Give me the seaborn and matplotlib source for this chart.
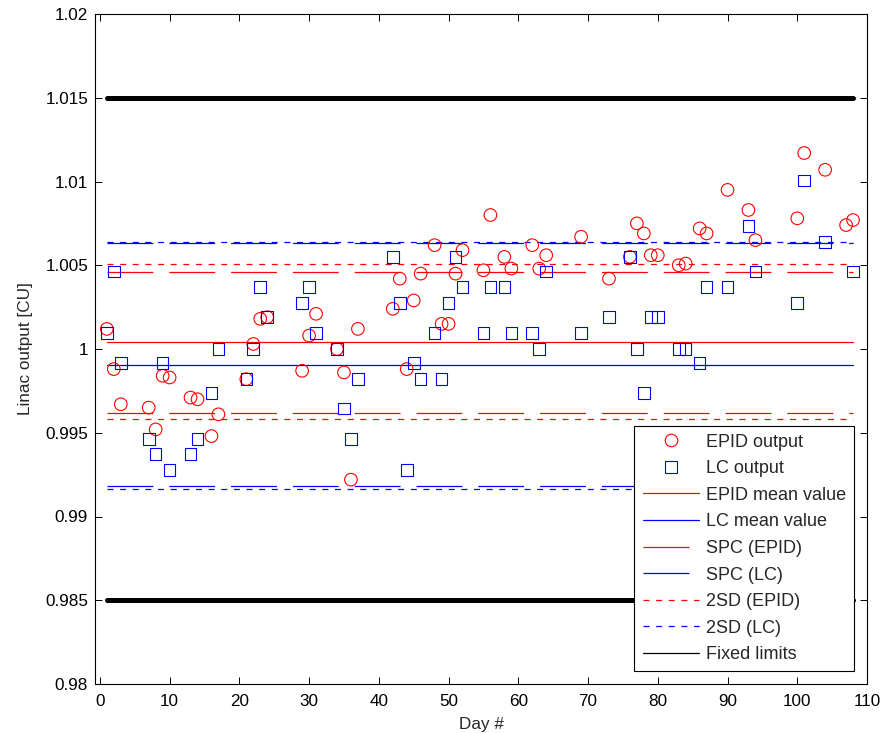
import numpy as np
import pandas as pd
import matplotlib
matplotlib.use("Agg")
import matplotlib.pyplot as plt
from matplotlib.lines import Line2D
import seaborn as sns

# Daily linac output measured with the EPID and with the LC chamber
days = [1, 2, 3, 7, 8, 9, 10, 13, 14, 16, 17, 21, 22, 23, 24, 29, 30, 31, 34,
        35, 36, 37, 42, 43, 44, 45, 46, 48, 49, 50, 51, 52, 55, 56, 58, 59, 62,
        63, 64, 69, 73, 76, 77, 78, 79, 80, 83, 84, 86, 87, 90, 93, 94, 100,
        101, 104, 107, 108]

epid_output = [1.0012, 0.9988, 0.9967, 0.9965, 0.9952, 0.9984, 0.9983, 0.9971,
               0.9970, 0.9948, 0.9961, 0.9982, 1.0003, 1.0018, 1.0019, 0.9987,
               1.0008, 1.0021, 1.0000, 0.9986, 0.9922, 1.0012, 1.0024, 1.0042,
               0.9988, 1.0029, 1.0045, 1.0062, 1.0015, 1.0015, 1.0045, 1.0059,
               1.0047, 1.0080, 1.0055, 1.0048, 1.0062, 1.0048, 1.0056, 1.0067,
               1.0042, 1.0055, 1.0075, 1.0069, 1.0056, 1.0056, 1.0050, 1.0051,
               1.0072, 1.0069, 1.0095, 1.0083, 1.0065, 1.0078, 1.0117, 1.0107,
               1.0074, 1.0077]

lc_output = [1.00095, 1.00462, 0.99918, 0.99464, 0.99373, 0.99918, 0.99279,
             0.99373, 0.99464, 0.99737, 1.00000, 0.99822, 1.00000, 1.00369,
             1.00190, 1.00276, 1.00369, 1.00095, 1.00000, 0.99645, 0.99464,
             0.99822, 1.00548, 1.00276, 0.99279, 0.99918, 0.99822, 1.00095,
             0.99822, 1.00276, 1.00548, 1.00369, 1.00095, 1.00369, 1.00369,
             1.00095, 1.00095, 1.00000, 1.00462, 1.00095, 1.00190, 1.00548,
             1.00000, 0.99737, 1.00190, 1.00190, 1.00000, 1.00000, 0.99918,
             1.00369, 1.00369, 1.00733, 1.00462, 1.00276, 1.01006, 1.00637,
             np.nan, 1.00462]

# Reference levels
epid_mean = 1.00043
lc_mean = 0.99907
spc_epid = [0.99617, 1.00462]
spc_lc = [0.99184, 1.00632]
sd2_epid = [0.99585, 1.00506]
sd2_lc = [0.99167, 1.00638]
fixed_limits = [0.985, 1.015]

x_ticks = [0, 10, 20, 30, 40, 50, 60, 70, 80, 90, 100, 110]
y_ticks = [0.98, 0.985, 0.99, 0.995, 1.0, 1.005, 1.01, 1.015, 1.02]
y_tick_labels = ["0.98", "0.985", "0.99", "0.995", "1", "1.005", "1.01",
                 "1.015", "1.02"]
legend_labels = ["EPID output", "LC output", "EPID mean value", "LC mean value",
                 "SPC (EPID)", "SPC (LC)", "2SD (EPID)", "2SD (LC)",
                 "Fixed limits"]

RED = "#ff0000"
BLUE = "#0000ff"
SPC_DASH = (0, (33, 11.5))
SD_DASH = (0, (4.3, 4.8))
LW = 0.9

sns.set_style("ticks")
plt.rcParams["font.family"] = ["Liberation Sans", "DejaVu Sans"]
plt.rcParams["lines.scale_dashes"] = False

df = pd.DataFrame({"day": days, "epid": epid_output, "lc": lc_output})
span = [df["day"].min(), df["day"].max()]

fig = plt.figure(figsize=(8.85, 7.33), dpi=100)
ax = fig.add_axes([95 / 885, 1 - 684 / 733, (867 - 95) / 885, (684 - 14) / 733])


def hline(value, color, lw, ls="-", **kw):
    seg = pd.DataFrame({"day": span, "value": [value, value]})
    sns.lineplot(data=seg, x="day", y="value", color=color, lw=lw,
                 linestyle=ls, ax=ax, **kw)


# Horizontal reference levels
for v in fixed_limits:
    hline(v, "black", 3.6, solid_capstyle="round", zorder=2)
hline(epid_mean, RED, LW, zorder=2)
hline(lc_mean, BLUE, LW, zorder=2)
for v in spc_epid:
    hline(v, RED, LW, SPC_DASH, zorder=2)
for v in spc_lc:
    hline(v, BLUE, LW, SPC_DASH, zorder=2)
for v in sd2_epid:
    hline(v, RED, LW, SD_DASH, zorder=2)
for v in sd2_lc:
    hline(v, BLUE, LW, SD_DASH, zorder=2)

# Measurements
sns.scatterplot(data=df, x="day", y="epid", marker="o", s=82,
                facecolor="none", edgecolor=RED, linewidth=0.8, ax=ax, zorder=3)
sns.scatterplot(data=df.dropna(), x="day", y="lc", marker="s", s=70,
                facecolor="none", edgecolor=BLUE, linewidth=0.8, ax=ax, zorder=3)

ax.set_xlim(-0.7, 110)
ax.set_ylim(0.98, 1.02)
ax.set_xticks(x_ticks)
ax.set_xticklabels([str(t) for t in x_ticks])
ax.set_yticks(y_ticks)
ax.set_yticklabels(y_tick_labels)
ax.tick_params(direction="in", length=5, width=0.7, top=True, right=True,
               labelsize=12.3, colors="black")
ax.tick_params(axis="x", pad=7)
ax.tick_params(axis="y", pad=5)
for sp in ax.spines.values():
    sp.set_color("black")
    sp.set_linewidth(0.8)

ax.set_xlabel("Day #", fontsize=12.3, labelpad=6)
ax.set_ylabel("Linac output [CU]", fontsize=12.3, labelpad=9)

handles = [
    Line2D([], [], ls="none", marker="o", mfc="none", mec=RED, ms=9, mew=0.8),
    Line2D([], [], ls="none", marker="s", mfc="none", mec=BLUE, ms=8.4, mew=0.8),
    Line2D([], [], color=RED, lw=LW),
    Line2D([], [], color=BLUE, lw=LW),
    Line2D([], [], color=RED, lw=LW, ls=SPC_DASH),
    Line2D([], [], color=BLUE, lw=LW, ls=SPC_DASH),
    Line2D([], [], color=RED, lw=LW, ls=SD_DASH),
    Line2D([], [], color=BLUE, lw=LW, ls=SD_DASH),
    Line2D([], [], color="black", lw=LW),
]
leg = ax.legend(handles, legend_labels, loc="lower right", fontsize=13,
                frameon=True, fancybox=False, edgecolor="black", framealpha=1,
                handlelength=3.15, handletextpad=0.37, labelspacing=0.53,
                borderpad=0.45, borderaxespad=0.7)
leg.get_frame().set_linewidth(0.8)
leg.set_zorder(5)

fig.savefig("out.png", dpi=100)
